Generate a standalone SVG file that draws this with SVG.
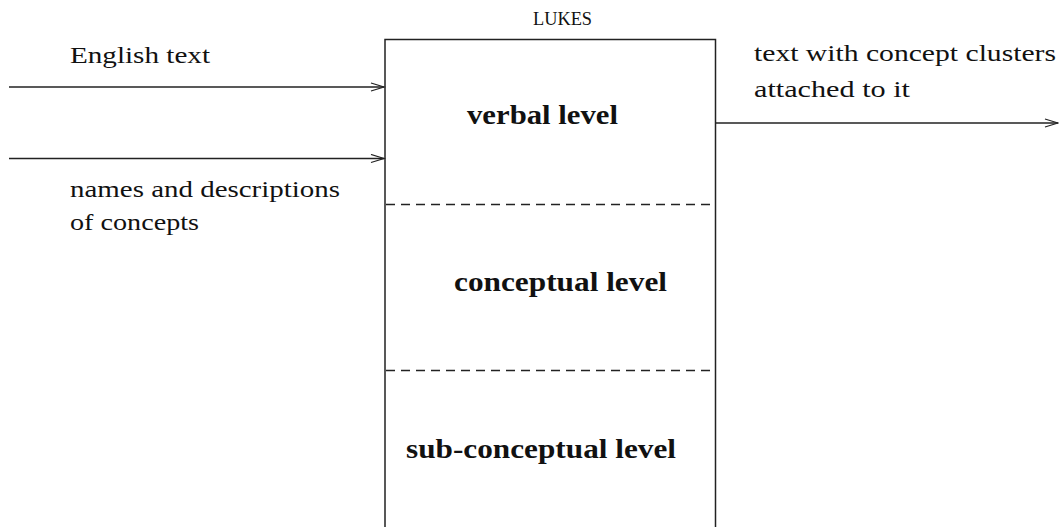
<svg xmlns="http://www.w3.org/2000/svg" width="1059" height="527" viewBox="0 0 1059 527">
  <style>
    .txt { font-family: "Liberation Serif", "DejaVu Serif", serif; font-size: 24px; fill: #111; }
    .bold { font-weight: bold; font-size: 27px; }
    .sc { font-size: 18px; }
    .line { stroke: #222; stroke-width: 1.5; fill: none; }
    .dash { stroke: #222; stroke-width: 1.4; fill: none; stroke-dasharray: 9 6; }
  </style>
  <defs>
    <marker id="open-arrow" markerWidth="16" markerHeight="10" refX="14" refY="5" orient="auto" markerUnits="userSpaceOnUse">
      <path d="M1,1 L14,5 L1,9" fill="none" stroke="#222" stroke-width="1.3"/>
    </marker>
  </defs>

  <rect width="1059" height="527" fill="#fff"/>

  <!-- LUKES system box with its three levels -->
  <g id="lukes">
    <text class="txt sc" x="533" y="25" textLength="59" lengthAdjust="spacingAndGlyphs">LUKES</text>
    <path class="line" d="M385,530 V39.5 H715.5 V530"/>
    <line class="dash" x1="386" y1="204.5" x2="715" y2="204.5"/>
    <line class="dash" x1="386" y1="370.5" x2="715" y2="370.5"/>
  </g>
  <g id="verbal-level">
    <text class="txt bold" x="467" y="124" textLength="151" lengthAdjust="spacingAndGlyphs">verbal level</text>
  </g>
  <g id="conceptual-level">
    <text class="txt bold" x="454" y="291" textLength="213" lengthAdjust="spacingAndGlyphs">conceptual level</text>
  </g>
  <g id="sub-conceptual-level">
    <text class="txt bold" x="406" y="458" textLength="270" lengthAdjust="spacingAndGlyphs">sub-conceptual level</text>
  </g>

  <!-- input / output labels -->
  <g id="english-text">
    <text class="txt" x="70" y="63" textLength="140" lengthAdjust="spacingAndGlyphs">English text</text>
  </g>
  <g id="concept-names">
    <text class="txt" x="70" y="197" textLength="270" lengthAdjust="spacingAndGlyphs">names and descriptions</text>
    <text class="txt" x="70" y="230" textLength="129" lengthAdjust="spacingAndGlyphs">of concepts</text>
  </g>
  <g id="annotated-text">
    <text class="txt" x="754" y="61" textLength="302" lengthAdjust="spacingAndGlyphs">text with concept clusters</text>
    <text class="txt" x="754" y="97" textLength="156" lengthAdjust="spacingAndGlyphs">attached to it</text>
  </g>

  <!-- connectors -->
  <g id="connectors">
    <line class="line" x1="9" y1="87" x2="384" y2="87" marker-end="url(#open-arrow)"/>
    <line class="line" x1="9" y1="158.5" x2="384" y2="158.5" marker-end="url(#open-arrow)"/>
    <line class="line" x1="716" y1="123" x2="1058" y2="123" marker-end="url(#open-arrow)"/>
  </g>
</svg>
